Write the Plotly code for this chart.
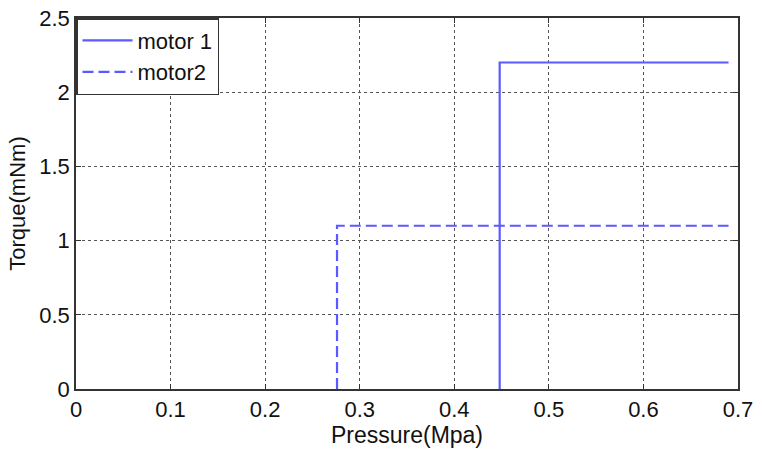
import plotly.graph_objects as go

# Data
motor1_x = [0.448, 0.448, 0.69]
motor1_y = [0.0, 2.2, 2.2]
motor2_x = [0.276, 0.276, 0.69]
motor2_y = [0.0, 1.1, 1.1]
x_ticks = [0, 0.1, 0.2, 0.3, 0.4, 0.5, 0.6, 0.7]
x_tick_labels = ["0", "0.1", "0.2", "0.3", "0.4", "0.5", "0.6", "0.7"]
y_ticks = [0, 0.5, 1, 1.5, 2, 2.5]
y_tick_labels = ["0", "0.5", "1", "1.5", "2", "2.5"]

line_color = "#5a5aff"
FONT = "Liberation Sans, Arial, sans-serif"

fig = go.Figure()
fig.add_trace(go.Scatter(x=motor1_x, y=motor1_y, mode="lines", name="motor 1",
                         line=dict(color=line_color, width=2.2)))
fig.add_trace(go.Scatter(x=motor2_x, y=motor2_y, mode="lines", name="motor2",
                         line=dict(color=line_color, width=2.2, dash="11px,5px")))

axis_common = dict(
    showline=True, linecolor="#333", linewidth=1.5, mirror="ticks",
    ticks="inside", ticklen=5, tickcolor="#333", tickwidth=1.2,
    showgrid=True, gridcolor="#555", gridwidth=1, griddash="dot",
    zeroline=False, automargin=False,
    tickfont=dict(family=FONT, size=22, color="#111"),
)

fig.update_layout(
    width=762, height=456,
    margin=dict(l=76, r=24, t=18, b=67),
    paper_bgcolor="white", plot_bgcolor="white",
    font=dict(family=FONT, size=22, color="#111"),
    xaxis=dict(range=[0, 0.7], tickvals=x_ticks, ticktext=x_tick_labels,
               title=dict(text="Pressure(Mpa)", font=dict(size=23), standoff=3),
               **axis_common),
    yaxis=dict(range=[0, 2.5], tickvals=y_ticks, ticktext=y_tick_labels,
               title=dict(text="Torque(mNm)", font=dict(size=22), standoff=8),
               **axis_common),
    legend=dict(x=0, y=1, xanchor="left", yanchor="top",
                bgcolor="white", bordercolor="#333", borderwidth=1.5,
                font=dict(family=FONT, size=22), itemwidth=50,
                tracegroupgap=0),
    showlegend=True,
)

fig.write_html(
    "out.html",
    config={"displayModeBar": False},
    post_script="document.body.style.margin='0';document.body.style.overflow='hidden';",
)
